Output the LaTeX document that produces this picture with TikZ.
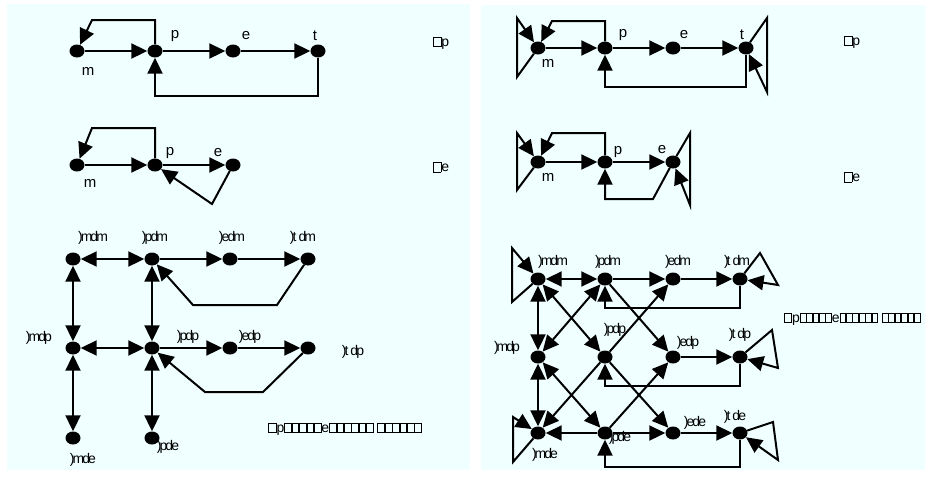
\documentclass[tikz,border=0pt]{standalone}
\usepackage{fontspec}
\setmainfont{Liberation Sans}
\newfontfamily\pairfont{Liberation Sans}[LetterSpace=-14]
\usepackage{tikz}
\usetikzlibrary{shapes.geometric, arrows.meta}
\definecolor{panelbg}{HTML}{F0FFFF}
\newlength{\tofuw}
\setlength{\tofuw}{5pt}
\setlength{\fboxsep}{0pt}
\setlength{\fboxrule}{0.7pt}
\newcommand{\tf}{\fbox{\rule{0pt}{9pt}\hspace{\tofuw}}}
\newcommand{\sq}{\fbox{\rule{0pt}{9pt}\hspace{7pt}}}

\begin{document}
\begin{tikzpicture}[x=1pt, y=-1pt,
  dot/.style={ellipse, fill=black, minimum width=15pt, minimum height=13pt, inner sep=0pt},
  arr/.style={-{Triangle[length=16pt, width=15pt]}, line width=2pt},
  dbl/.style={{Triangle[length=16pt, width=15pt]}-{Triangle[length=16pt, width=15pt]}, line width=2pt},
  lbl/.style={font=\fontsize{15}{16}\selectfont, inner sep=0pt},
  pairlbl/.style={font=\pairfont\fontsize{14}{15}\selectfont, inner sep=0pt},
  caplbl/.style={font=\fontsize{14}{15}\selectfont, inner sep=0pt}
]
\useasboundingbox (0,0) rectangle (925,477);
\fill[panelbg] (7,4) rectangle (470,470);
\fill[panelbg] (481,5) rectangle (925,470);

% left panel, top
\node[dot] (lam) at (77,51) {};
\node[dot] (lap) at (155,51) {};
\node[dot] (lae) at (233,51) {};
\node[dot] (lat) at (318,51) {};
\node[lbl] at (88,71) {m};
\node[lbl] at (175,36) {p};
\node[lbl] at (246,36) {e};
\node[lbl] at (315,36) {t};
\node[caplbl] (lacap) at (441,43) {\sq p};
\draw[arr] (lam) -- (lap);
\draw[arr] (lap) -- (lae);
\draw[arr] (lae) -- (lat);
\draw[arr] (lap) |- (92,20) -- (lam);
\draw[arr] (lat) -- (318,96) -| (lap);

% left panel, middle
\node[dot] (lbm) at (77,165) {};
\node[dot] (lbp) at (155,165) {};
\node[dot] (lbe) at (233,165) {};
\node[lbl] at (90,183) {m};
\node[lbl] at (170,153) {p};
\node[lbl] at (218,153) {e};
\node[caplbl] (lbcap) at (441,167) {\sq e};
\draw[arr] (lbm) -- (lbp);
\draw[arr] (lbp) -- (lbe);
\draw[arr] (lbp) |- (92,128) -- (lbm);
\draw[arr] (lbe) -- (212,204) -- (lbp);

% left panel, product
\node[dot] (lmm) at (73,259) {};
\node[dot] (lpm) at (152,259) {};
\node[dot] (lem) at (230,259) {};
\node[dot] (ltm) at (308,259) {};
\node[dot] (lmp) at (73,348) {};
\node[dot] (lpp) at (152,348) {};
\node[dot] (lep) at (230,348) {};
\node[dot] (ltp) at (308,348) {};
\node[dot] (lme) at (73,438) {};
\node[dot] (lpe) at (152,438) {};
\node[pairlbl] at (93,238) {)mdm};
\node[pairlbl] at (155,238) {)pdm};
\node[pairlbl] at (232,238) {)edm};
\node[pairlbl] at (303,238) {)t dm};
\node[pairlbl] at (39,338) {)mdp};
\node[pairlbl] at (188,337) {)pdp};
\node[pairlbl] at (250,337) {)edp};
\node[pairlbl] at (353,352) {)t dp};
\node[pairlbl] at (83,460) {)mde};
\node[pairlbl] at (168,447) {)pde};
\node[caplbl] (lccap) at (345,429) {\setlength{\tofuw}{6pt}\sq p\tf\tf\tf\tf\tf e\tf\tf\tf\tf\tf\tf\ \tf\tf\tf\tf\tf\tf};
\draw[dbl] (lmm) -- (lpm);
\draw[arr] (lpm) -- (lem);
\draw[arr] (lem) -- (ltm);
\draw[arr] (ltm) -- (277,305) -- (193,305) -- (lpm);
\draw[dbl] (lmm) -- (lmp);
\draw[dbl] (lpm) -- (lpp);
\draw[dbl] (lmp) -- (lpp);
\draw[arr] (lpp) -- (lep);
\draw[arr] (lep) -- (ltp);
\draw[arr] (ltp) -- (263,392) -- (205,392) -- (lpp);
\draw[dbl] (lmp) -- (lme);
\draw[dbl] (lpp) -- (lpe);

% right panel, top
\node[dot] (ram) at (538,48) {};
\node[dot] (rap) at (605,48) {};
\node[dot] (rae) at (673,48) {};
\node[dot] (rat) at (746,48) {};
\node[lbl] at (548,63) {m};
\node[lbl] at (623,35) {p};
\node[lbl] at (684,35) {e};
\node[lbl] at (742,35) {t};
\node[caplbl] (racap) at (852,42) {\sq p};
\draw[arr] (ram) -- (rap);
\draw[arr] (rap) -- (rae);
\draw[arr] (rae) -- (rat);
\draw[arr] (rap) |- (552,21) -- (ram);
\draw[arr] (ram) -- (517,77) -- (517,18) -- (ram);
\draw[arr] (rat) -- (746,87) -| (rap);
\draw[arr] (rat) -- (767,18) -- (767,92) -- (rat);

% right panel, middle
\node[dot] (rbm) at (538,162) {};
\node[dot] (rbp) at (605,162) {};
\node[dot] (rbe) at (673,162) {};
\node[lbl] at (548,177) {m};
\node[lbl] at (618,152) {p};
\node[lbl] at (662,150) {e};
\node[caplbl] (rbcap) at (852,177) {\sq e};
\draw[arr] (rbm) -- (rbp);
\draw[arr] (rbp) -- (rbe);
\draw[arr] (rbp) |- (552,133) -- (rbm);
\draw[arr] (rbm) -- (517,190) -- (517,133) -- (rbm);
\draw[arr] (rbe) -- (653,199) -| (rbp);
\draw[arr] (rbe) -- (690,133) -- (690,205) -- (rbe);

% right panel, product
\node[dot] (rmm) at (538,279) {};
\node[dot] (rpm) at (605,279) {};
\node[dot] (rem) at (673,279) {};
\node[dot] (rtm) at (740,279) {};
\node[dot] (rmp) at (538,357) {};
\node[dot] (rpp) at (605,357) {};
\node[dot] (rep) at (673,357) {};
\node[dot] (rtp) at (740,357) {};
\node[dot] (rme) at (538,433) {};
\node[dot] (rpe) at (605,433) {};
\node[dot] (ree) at (673,433) {};
\node[dot] (rte) at (740,433) {};
\node[pairlbl] at (553,262) {)mdm};
\node[pairlbl] at (608,262) {)pdm};
\node[pairlbl] at (678,262) {)edm};
\node[pairlbl] at (737,262) {)t dm};
\node[pairlbl] at (507,348) {)mdp};
\node[pairlbl] at (615,330) {)pdp};
\node[pairlbl] at (688,343) {)edp};
\node[pairlbl] at (740,335) {)t dp};
\node[pairlbl] at (545,455) {)mde};
\node[pairlbl] at (620,438) {)pde};
\node[pairlbl] at (695,423) {)ede};
\node[pairlbl] at (735,417) {)t de};
\node[caplbl] (rccap) at (852,319) {\sq p\tf\tf\tf\tf\tf e\tf\tf\tf\tf\tf\tf\ \tf\tf\tf\tf\tf\tf};
\draw[dbl] (rmm) -- (rpm);
\draw[arr] (rpm) -- (rem);
\draw[arr] (rem) -- (rtm);
\draw[arr] (rtm) -- (740,308) -| (rpm);
\draw[arr] (rtm) -- (760,253) -- (778,285) -- (rtm);
\draw[dbl] (rmm) -- (rmp);
\draw[arr] (rmm) -- (512,302) -- (512,248) -- (rmm);
\draw[dbl] (rmm) -- (rpp);
\draw[dbl] (rpm) -- (rmp);
\draw[arr] (rpm) -- (rep);
\draw[arr] (rpp) -- (rem);
\draw[arr] (rpp) -- (rme);
\draw[arr] (rpp) -- (ree);
\draw[arr] (rep) -- (rtp);
\draw[arr] (rtp) -- (740,386) -| (rpp);
\draw[arr] (rtp) -- (772,330) -- (778,368) -- (rtp);
\draw[dbl] (rmp) -- (rme);
\draw[dbl] (rmp) -- (rpe);
\draw[arr] (rme) -- (513,462) -- (513,417) -- (rme);
\draw[arr] (rpe) -- (rme);
\draw[arr] (rpe) -- (ree);
\draw[arr] (rpe) -- (rep);
\draw[arr] (ree) -- (rte);
\draw[arr] (rte) -- (740,467) -| (rpe);
\draw[arr] (rte) -- (773,422) -- (778,460) -- (rte);
\end{tikzpicture}
\end{document}
